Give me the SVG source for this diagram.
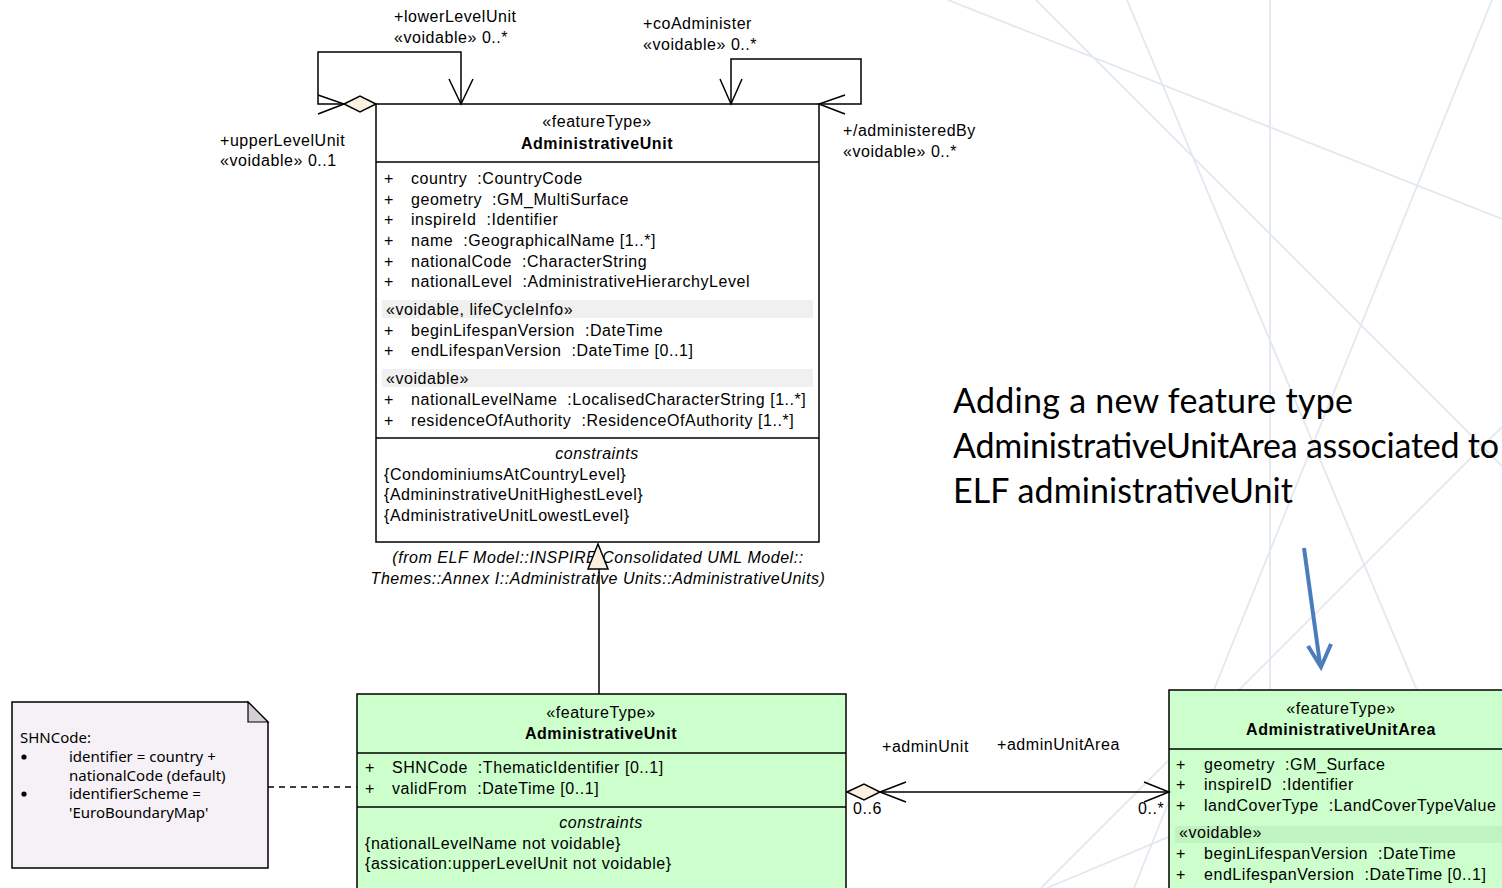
<svg xmlns="http://www.w3.org/2000/svg" width="1502" height="888" viewBox="0 0 1502 888">
  <defs>
    <style>
      .t { font-family: "Liberation Sans", Arial, sans-serif; font-size: 16px; letter-spacing: 0.55px; fill: #000; white-space: pre; }
      .b { font-weight: bold; }
      .i { font-style: italic; }
      .m { text-anchor: middle; }
      .note { font-family: "Noto Sans", "Open Sans", sans-serif; font-size: 15px; fill: #000; }
      .big { font-family: Lato, "Noto Sans", sans-serif; font-size: 34px; fill: #000; }
      .bg { stroke: #e2e8f0; stroke-width: 1.8; fill: none; }
      .box { fill: #ffffff; stroke: #000; stroke-width: 1.5; }
      .gbox { fill: #ccffcc; stroke: #000; stroke-width: 1.5; }
      .sep { stroke: #000; stroke-width: 1.5; }
      .band { fill: #f0f0f0; }
      .gband { fill: #bff3bf; }
      .ln { fill: none; stroke: #000; stroke-width: 1.5; }
      .dia { fill: #fcf0e0; stroke: #000; stroke-width: 1.5; }
    </style>
  </defs>

  <rect width="1502" height="888" fill="#ffffff"/>

  <!-- faint background strokes -->
  <g id="background">
    <line class="bg" x1="948" y1="0" x2="1502" y2="219"/>
    <line class="bg" x1="1036" y1="0" x2="1502" y2="466"/>
    <line class="bg" x1="1127" y1="0" x2="1500" y2="888"/>
    <line class="bg" x1="1270" y1="0" x2="1270" y2="888"/>
    <line class="bg" x1="1492" y1="0" x2="1134" y2="888"/>
    <line class="bg" x1="1502" y1="427" x2="1041" y2="888"/>
    <line class="bg" x1="1502" y1="697" x2="1047" y2="888"/>
  </g>

  <!-- explanatory caption -->
  <g id="caption">
    <text class="big" x="953" y="413" textLength="400">Adding a new feature type</text>
    <text class="big" x="953" y="458" textLength="546">AdministrativeUnitArea associated to</text>
    <text class="big" x="953" y="503" textLength="340">ELF administrativeUnit</text>
    <line x1="1304" y1="548" x2="1320" y2="664" stroke="#4a7ebb" stroke-width="4"/>
    <polyline points="1308,646 1321,667 1331,644" fill="none" stroke="#4a7ebb" stroke-width="4" stroke-linejoin="miter"/>
  </g>

  <!-- INSPIRE AdministrativeUnit -->
  <g id="inspire-administrative-unit">
    <rect class="box" x="376" y="104" width="443" height="438"/>
    <line class="sep" x1="376" y1="162" x2="819" y2="162"/>
    <line class="sep" x1="376" y1="438" x2="819" y2="438"/>
    <text class="t m" x="597" y="127">«featureType»</text>
    <text class="t m b" x="597" y="149">AdministrativeUnit</text>

    <text class="t" x="384" y="184">+</text><text class="t" x="411" y="184">country  :CountryCode</text>
    <text class="t" x="384" y="205">+</text><text class="t" x="411" y="205">geometry  :GM_MultiSurface</text>
    <text class="t" x="384" y="225">+</text><text class="t" x="411" y="225">inspireId  :Identifier</text>
    <text class="t" x="384" y="246">+</text><text class="t" x="411" y="246">name  :GeographicalName [1..*]</text>
    <text class="t" x="384" y="267">+</text><text class="t" x="411" y="267">nationalCode  :CharacterString</text>
    <text class="t" x="384" y="287">+</text><text class="t" x="411" y="287">nationalLevel  :AdministrativeHierarchyLevel</text>

    <rect class="band" x="382" y="300" width="431" height="18"/>
    <text class="t" x="386" y="315">«voidable, lifeCycleInfo»</text>
    <text class="t" x="384" y="336">+</text><text class="t" x="411" y="336">beginLifespanVersion  :DateTime</text>
    <text class="t" x="384" y="356">+</text><text class="t" x="411" y="356">endLifespanVersion  :DateTime [0..1]</text>

    <rect class="band" x="382" y="369" width="431" height="18"/>
    <text class="t" x="386" y="384">«voidable»</text>
    <text class="t" x="384" y="405">+</text><text class="t" x="411" y="405">nationalLevelName  :LocalisedCharacterString [1..*]</text>
    <text class="t" x="384" y="426">+</text><text class="t" x="411" y="426">residenceOfAuthority  :ResidenceOfAuthority [1..*]</text>

    <text class="t m i" x="597" y="459">constraints</text>
    <text class="t" x="384" y="480">{CondominiumsAtCountryLevel}</text>
    <text class="t" x="384" y="500">{AdmininstrativeUnitHighestLevel}</text>
    <text class="t" x="384" y="521">{AdministrativeUnitLowestLevel}</text>

    <text class="t m i" x="598" y="563">(from ELF Model::INSPIRE Consolidated UML Model::</text>
    <text class="t m i" x="598" y="584">Themes::Annex I::Administrative Units::AdministrativeUnits)</text>
  </g>

  <!-- ELF AdministrativeUnit -->
  <g id="elf-administrative-unit">
    <rect class="gbox" x="357" y="694" width="489" height="210"/>
    <line class="sep" x1="357" y1="753" x2="846" y2="753"/>
    <line class="sep" x1="357" y1="807" x2="846" y2="807"/>
    <text class="t m" x="601" y="718">«featureType»</text>
    <text class="t m b" x="601" y="739">AdministrativeUnit</text>
    <text class="t" x="365" y="773">+</text><text class="t" x="392" y="773">SHNCode  :ThematicIdentifier [0..1]</text>
    <text class="t" x="365" y="794">+</text><text class="t" x="392" y="794">validFrom  :DateTime [0..1]</text>
    <text class="t m i" x="601" y="828">constraints</text>
    <text class="t" x="365" y="849">{nationalLevelName not voidable}</text>
    <text class="t" x="365" y="869">{assication:upperLevelUnit not voidable}</text>
  </g>

  <!-- AdministrativeUnitArea -->
  <g id="administrative-unit-area">
    <rect class="gbox" x="1169" y="690" width="345" height="214"/>
    <line class="sep" x1="1169" y1="749" x2="1514" y2="749"/>
    <text class="t m" x="1341" y="714">«featureType»</text>
    <text class="t m b" x="1341" y="735">AdministrativeUnitArea</text>
    <text class="t" x="1176" y="770">+</text><text class="t" x="1204" y="770">geometry  :GM_Surface</text>
    <text class="t" x="1176" y="790">+</text><text class="t" x="1204" y="790">inspireID  :Identifier</text>
    <text class="t" x="1176" y="811">+</text><text class="t" x="1204" y="811">landCoverType  :LandCoverTypeValue</text>
    <rect class="gband" x="1175" y="826" width="330" height="17"/>
    <text class="t" x="1179" y="838">«voidable»</text>
    <text class="t" x="1176" y="859">+</text><text class="t" x="1204" y="859">beginLifespanVersion  :DateTime</text>
    <text class="t" x="1176" y="880">+</text><text class="t" x="1204" y="880">endLifespanVersion  :DateTime [0..1]</text>
  </g>

  <!-- SHNCode note -->
  <g id="shncode-note">
    <path d="M12,702 H248 L268,722 V868 H12 Z" fill="#f6f1f6" stroke="#000" stroke-width="1.5"/>
    <path d="M248,702 V722 H268 Z" fill="#d3cfd3" stroke="#000" stroke-width="1.2"/>
    <text class="note" x="20" y="743">SHNCode:</text>
    <circle cx="24" cy="757" r="2.6"/>
    <text class="note" x="69" y="762">identifier = country +</text>
    <text class="note" x="69" y="781">nationalCode (default)</text>
    <circle cx="24" cy="794" r="2.6"/>
    <text class="note" x="69" y="799">identifierScheme =</text>
    <text class="note" x="69" y="818">'EuroBoundaryMap'</text>
  </g>

  <!-- connectors -->
  <g id="connectors">
    <!-- upperLevelUnit / lowerLevelUnit self association -->
    <path class="ln" d="M344,104 H318 V52 H461 V104"/>
    <polyline class="ln" points="318,95 344,104 318,114"/>
    <polygon class="dia" points="344,104 360,96 376,104 360,112"/>
    <polyline class="ln" points="449,79 461,104 473,79"/>
    <text class="t" x="394" y="22">+lowerLevelUnit</text>
    <text class="t" x="394" y="43">«voidable» 0..*</text>
    <text class="t" x="220" y="146">+upperLevelUnit</text>
    <text class="t" x="220" y="166">«voidable» 0..1</text>

    <!-- coAdminister / administeredBy self association -->
    <path class="ln" d="M819,104 H861 V59 H731 V104"/>
    <polyline class="ln" points="720,79 731,104 742,79"/>
    <polyline class="ln" points="845,95 819,104 845,114"/>
    <text class="t" x="643" y="29">+coAdminister</text>
    <text class="t" x="643" y="50">«voidable» 0..*</text>
    <text class="t" x="843" y="136">+/administeredBy</text>
    <text class="t" x="843" y="157">«voidable» 0..*</text>

    <!-- generalization -->
    <line class="ln" x1="599" y1="694" x2="599" y2="568"/>
    <polygon class="dia" points="598,544 608,569 588,569"/>

    <!-- note anchor -->
    <line x1="268" y1="787" x2="357" y2="787" stroke="#000" stroke-width="1.3" stroke-dasharray="6,5"/>

    <!-- adminUnit / adminUnitArea association -->
    <line class="ln" x1="880" y1="792" x2="1169" y2="792"/>
    <polygon class="dia" points="847,792 864,784 880,792 864,800"/>
    <polyline class="ln" points="906,782 880,792 906,802"/>
    <polyline class="ln" points="1144,782 1169,792 1144,802"/>
    <text class="t" x="882" y="752">+adminUnit</text>
    <text class="t" x="997" y="750">+adminUnitArea</text>
    <text class="t" x="853" y="814">0..6</text>
    <text class="t" x="1138" y="814">0..*</text>
  </g>
</svg>
